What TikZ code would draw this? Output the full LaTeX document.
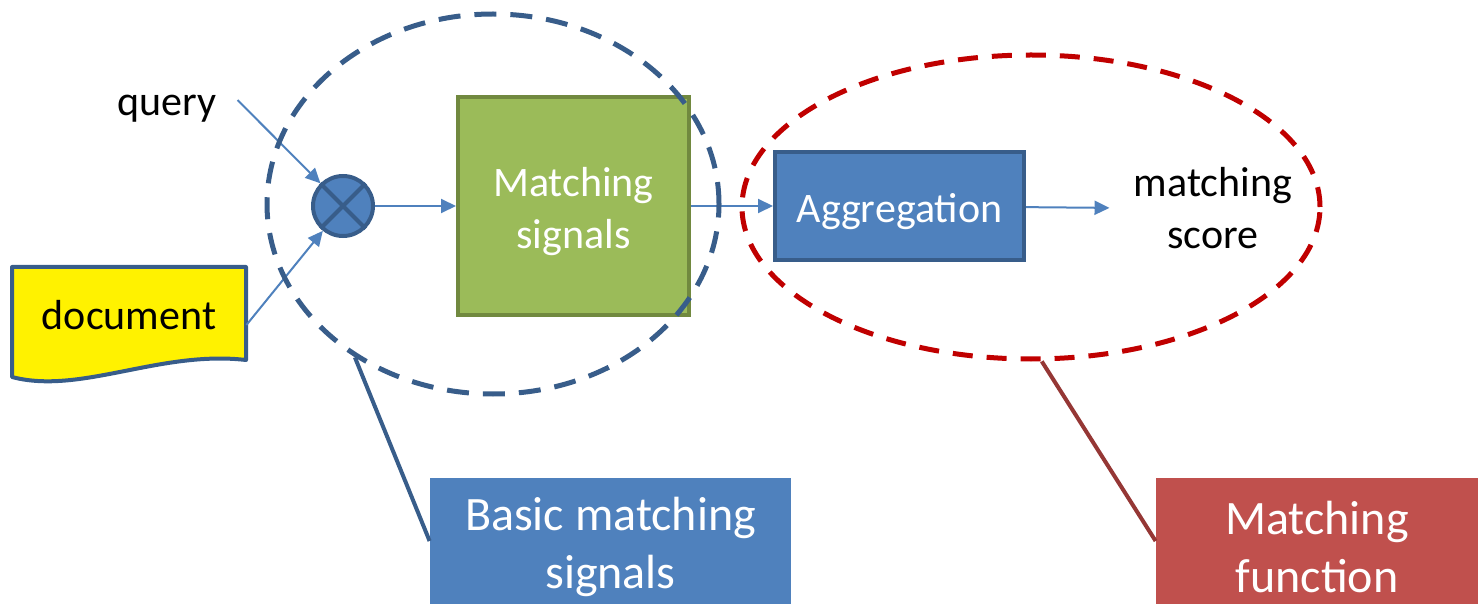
\documentclass[tikz,border=0pt]{standalone}
\usepackage{fontspec}
\setmainfont{Carlito}
\usetikzlibrary{arrows.meta,positioning,shapes.geometric}
\definecolor{boxblue}{HTML}{4F81BD}
\definecolor{lineblue}{HTML}{385D8A}
\definecolor{boxgreen}{HTML}{9BBB59}
\definecolor{linegreen}{HTML}{71893F}
\definecolor{dashred}{HTML}{C00000}
\definecolor{boxred}{HTML}{C0504D}
\definecolor{linered}{HTML}{953735}

\begin{document}
\begin{tikzpicture}[x=0.5pt,y=-0.5pt,
  body/.style={font=\fontsize{21}{26}\selectfont,align=center},
  blocktxt/.style={body,text=white,yshift=-2.75pt},
  labeltxt/.style={font=\fontsize{24}{29}\selectfont,align=center,text=white,yshift=-3pt},
  flow/.style={draw=boxblue,line width=1pt,-{Triangle[length=7.5pt,width=7pt]}},
  block/.style={line width=2pt,inner sep=0pt},
  grp/.style={ellipse,inner sep=0pt,line width=2.5pt,dash pattern=on 11pt off 7pt},
  callout/.style={line width=2pt}]
  \useasboundingbox (0,0) rectangle (1478,604);
  \fill[yellow] (12,267) -- (246,267) -- (246,360) .. controls (160,350) and (80,395) .. (12,377) -- cycle;
  \draw[lineblue,line width=2pt,line join=round] (12,267) -- (246,267) -- (246,360) .. controls (160,350) and (80,395) .. (12,377) -- cycle;
  \node[body,minimum width=117pt,minimum height=46.5pt,inner sep=0pt] (doc) at (129,315) {document};
  \node[body] (query) at (167,109) {query};
  \node[circle,draw=lineblue,fill=boxblue,line width=2pt,minimum size=30pt,inner sep=0pt] (mult) at (343,206) {};
  \draw[lineblue,line width=2pt] (mult.45) -- (mult.225) (mult.135) -- (mult.315);
  \node[block,draw=linegreen,fill=boxgreen,minimum width=115.5pt,minimum height=109pt,
    label={[blocktxt]center:Matching\\signals}] (signals) at (573.5,206) {};
  \node[block,draw=lineblue,fill=boxblue,minimum width=124.5pt,minimum height=54pt,
    label={[blocktxt]center:Aggregation}] (aggr) at (899.5,206) {};
  \node[body,inner sep=6pt] (score) at (1213,208) {matching\\score};
  \draw[flow] ([xshift=7pt,yshift=4.5pt]query.east) -- (mult);
  \draw[flow] ([yshift=-5pt]doc.east) -- (mult);
  \draw[flow] (mult) -- (signals);
  \draw[flow] (signals) -- (aggr);
  \draw[flow,shorten >=6pt] (aggr) -- (score.west);
  \node[grp,draw=lineblue,minimum width=226pt,minimum height=190pt] (basicgrp) at (493,204) {};
  \node[grp,draw=dashred,minimum width=289pt,minimum height=152pt,dash pattern=on 10pt off 7pt] (funcgrp) at (1031,207) {};
  \node[fill=boxblue,minimum width=180.5pt,minimum height=63pt,inner sep=0pt,
    label={[labeltxt]center:Basic matching\\signals}] (basiclbl) at (610.5,541) {};
  \node[fill=boxred,minimum width=161pt,minimum height=63pt,inner sep=0pt,
    label={[labeltxt]center:Matching\\function}] (funclbl) at (1317,541) {};
  \draw[callout,lineblue] (basicgrp.228) -- (basiclbl.west);
  \draw[callout,linered] (funcgrp.274) -- (funclbl.west);
\end{tikzpicture}
\end{document}
